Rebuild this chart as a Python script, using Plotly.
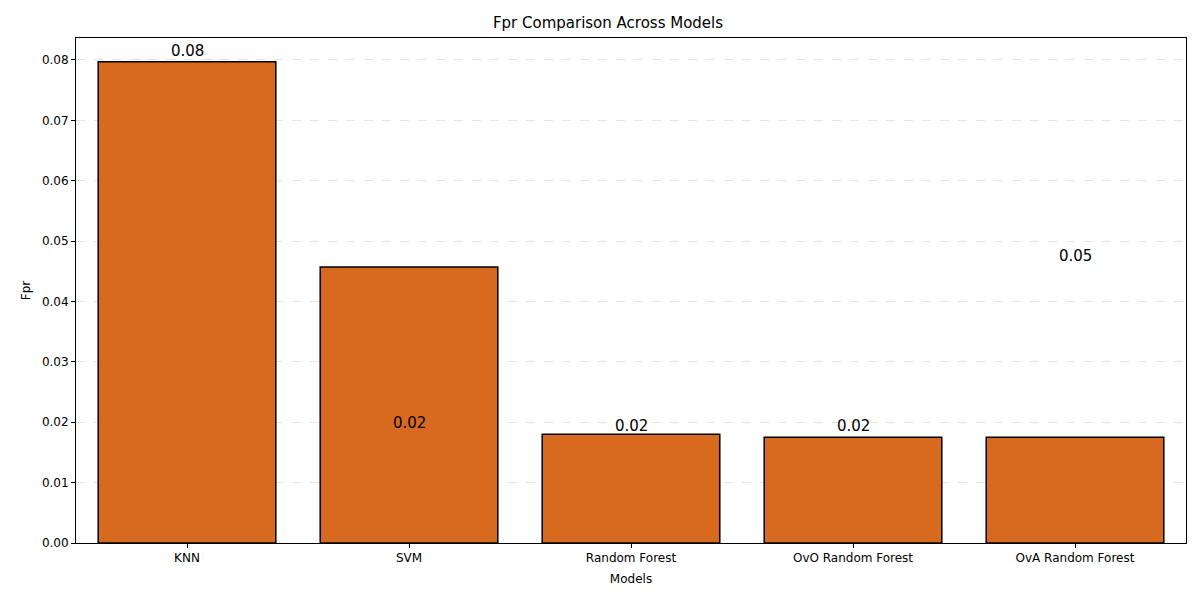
import plotly.graph_objects as go

models = ["KNN", "SVM", "Random Forest", "OvO Random Forest", "OvA Random Forest"]
fpr = [0.0797, 0.0457, 0.0180, 0.0175, 0.0175]
# value labels as drawn in the source (text and the height each was placed at)
label_text = ["0.08", "0.02", "0.02", "0.02", "0.05"]
label_height = [0.0797, 0.0180, 0.0175, 0.0175, 0.0457]

fig = go.Figure(go.Bar(x=models, y=fpr, width=0.8, marker_color="#D86A1F",
                       marker_line_color="black", marker_line_width=1.5))

for m, t, h in zip(models, label_text, label_height):
    fig.add_annotation(x=m, y=h, text=t, showarrow=False, yanchor="bottom",
                       font=dict(size=15, color="black"))

axis_style = dict(showline=True, linecolor="black", mirror=True, ticks="outside",
                  tickcolor="black", ticklen=4, tickfont=dict(size=12, color="black"),
                  zeroline=False)
fig.update_xaxes(title=dict(text="Models", font=dict(size=12, color="black"), standoff=10),
                 showgrid=False, range=[-0.5, 4.5], **axis_style)
fig.update_yaxes(title=dict(text="Fpr", font=dict(size=12, color="black"), standoff=8),
                 range=[0, 0.08364], dtick=0.01, tickformat=".2f",
                 showgrid=True, gridcolor="#e5e5e5", griddash="dash", **axis_style)
fig.update_layout(
    title=dict(text="Fpr Comparison Across Models", x=0.5, xanchor="center", y=0.985,
               font=dict(size=15, color="black")),
    width=1200, height=600, plot_bgcolor="white", paper_bgcolor="white",
    font=dict(family="DejaVu Sans"), showlegend=False,
    margin=dict(l=68, r=22, t=30, b=65), bargap=0.2)
fig.write_html("out.html")
